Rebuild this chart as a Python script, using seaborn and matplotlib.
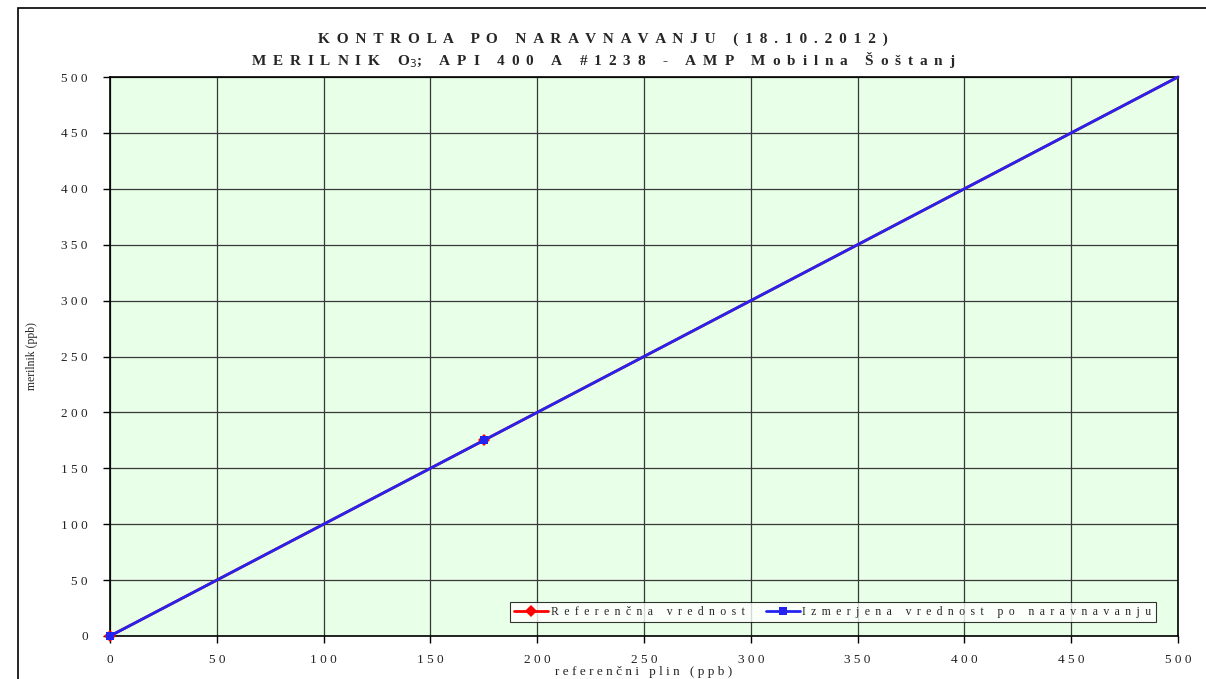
import numpy as np
import pandas as pd
import seaborn as sns
import matplotlib.pyplot as plt
from matplotlib.patches import Rectangle
from matplotlib.ticker import FuncFormatter

# reference gas vs. measured values (ppb)
ref_x = [0, 175, 500]
ref_y = [0, 175, 500]
meas_x = [0, 175, 500]
meas_y = [0, 175, 500]

ticks = list(range(0, 501, 50))

title_1 = "KONTROLA PO NARAVNAVANJU (18.10.2012)"
title_2a = "MERILNIK O"
title_2b = "; API 400 A #1238 - AMP Mobilna Šoštanj"
x_label = "referenčni plin (ppb)"
y_label = "merilnik (ppb)"
lbl_ref = "Referenčna vrednost"
lbl_meas = "Izmerjena vrednost po naravnavanju"


def spaced(s, sep=" "):
    # imitate the wide character spacing of the original chart
    return sep.join(s)


TS = " \u2009"

sns.set_style("white")
plt.rcParams['font.family'] = ['Liberation Serif', 'DejaVu Serif']

fig = plt.figure(figsize=(12.06, 6.79), dpi=100)
ax = fig.add_axes([110 / 1206, 1 - 636 / 679, 1068 / 1206, 559 / 679])
ax.set_facecolor("#E8FFE8")

df_ref = pd.DataFrame({"x": ref_x, "y": ref_y})
df_meas = pd.DataFrame({"x": meas_x, "y": meas_y})

sns.lineplot(data=df_ref, x="x", y="y", ax=ax, color="#FF0000", marker="D",
             markersize=6, markeredgewidth=0, lw=2, sort=False,
             markevery=[0, 1], label=spaced(lbl_ref, TS), clip_on=False,
             zorder=3)
sns.lineplot(data=df_meas, x="x", y="y", ax=ax, color="#2424F0", marker="s",
             markersize=6, markeredgewidth=0, lw=2, sort=False,
             markevery=[0, 1], label=spaced(lbl_meas, TS), clip_on=False,
             zorder=4)

ax.set_xlim(0, 500)
ax.set_ylim(0, 500)
ax.set_xticks(ticks)
ax.set_yticks(ticks)
fmt = FuncFormatter(lambda v, p: spaced(str(int(v))))
ax.xaxis.set_major_formatter(fmt)
ax.yaxis.set_major_formatter(fmt)
ax.tick_params(axis="both", which="major", direction="out", length=5,
               width=1, color="#000000", labelsize=9.5, labelcolor="#222222",
               bottom=True, left=True)
ax.tick_params(axis="x", pad=8)
ax.tick_params(axis="y", pad=11)
ax.grid(True, color="#383838", lw=0.9)
for side in ax.spines.values():
    side.set_color("#000000")
    side.set_linewidth(1.2)

ax.set_xlabel(spaced(x_label), fontsize=9.5)
ax.xaxis.set_label_coords(0.5, -0.054)
ax.set_ylabel(y_label, fontsize=8.5)
ax.yaxis.set_label_coords(-0.067, 0.5)

fig.text(0.5, 1 - 39 / 679, spaced(title_1, TS), ha="center", va="center",
         fontsize=11, fontweight="bold")
fig.text(0.5, 1 - 60 / 679,
         spaced(title_2a, TS) + "$_{3}$" + spaced(title_2b, TS),
         ha="center", va="center", fontsize=11, fontweight="bold")

leg = ax.legend(loc="lower right", bbox_to_anchor=(0.979, 0.025), ncol=2,
                fontsize=8.5, frameon=True, fancybox=False, borderpad=0.35,
                handlelength=2.9, columnspacing=1.8, handletextpad=0.2,
                borderaxespad=0)
leg.get_frame().set_edgecolor("#000000")
leg.get_frame().set_linewidth(0.8)

# outer chart border
fig.patches.append(Rectangle((18 / 1206, -0.01), 1.2, 1 - 8 / 679 + 0.01,
                             transform=fig.transFigure, fill=False,
                             edgecolor="#000000", lw=1.2))

fig.savefig("out.png", dpi=100)
